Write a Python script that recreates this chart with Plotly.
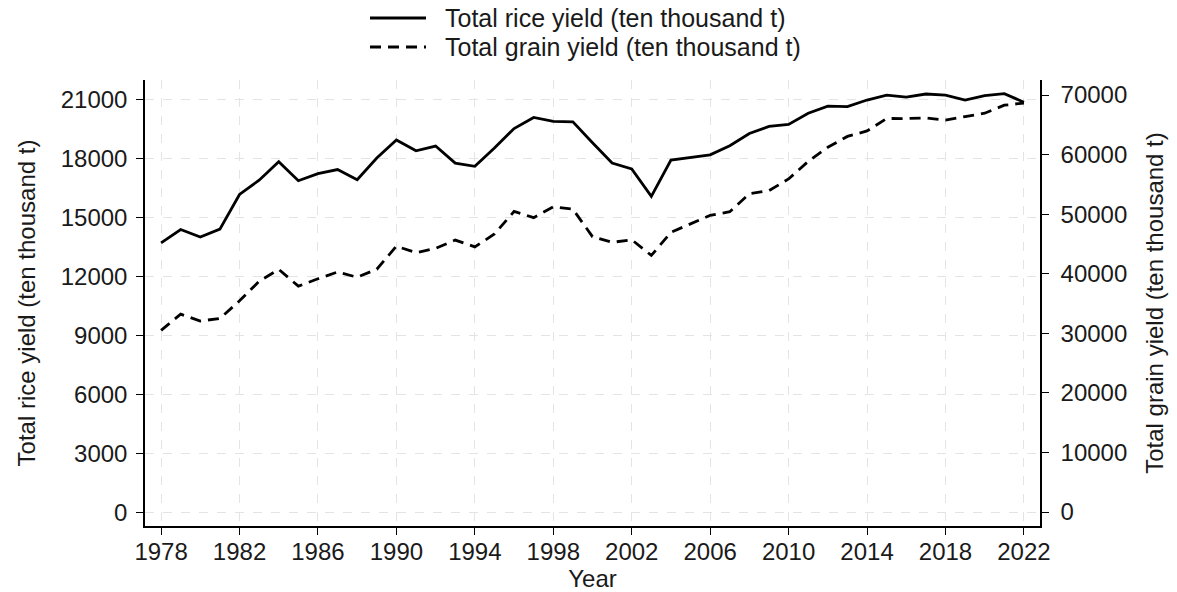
import plotly.graph_objects as go

# Annual output, ten thousand tonnes
years = list(range(1978, 2023))
rice_yield = [
    13693, 14375, 13991, 14396, 16160, 16887, 17826, 16857, 17222, 17426,
    16911, 18013, 18933, 18381, 18622, 17751, 17593, 18523, 19510, 20074,
    19871, 19849, 18791, 17758, 17454, 16066, 17909, 18059, 18172, 18638,
    19261, 19620, 19723, 20288, 20653, 20629, 20961, 21214, 21109, 21268,
    21213, 20961, 21186, 21284, 20850,
]
grain_yield = [
    30477, 33212, 32056, 32502, 35450, 38728, 40731, 37911, 39151, 40298,
    39408, 40755, 44624, 43529, 44266, 45649, 44510, 46662, 50454, 49417,
    51230, 50839, 46218, 45264, 45706, 43070, 46947, 48402, 49804, 50414,
    53434, 53941, 55911, 58849, 61223, 63048, 63965, 66060, 66044, 66161,
    65789, 66384, 66949, 68285, 68653,
]

x_ticks = list(range(1978, 2023, 4))
left_ticks = list(range(0, 21001, 3000))
right_ticks = list(range(0, 70001, 10000))

rice_name = "Total rice yield (ten thousand t)"
grain_name = "Total grain yield (ten thousand t)"

FONT = "Liberation Sans, Arial, sans-serif"
TICK_FS = 24
TITLE_FS = 24
LEGEND_FS = 25
TEXT_COLOR = "#1a1a1a"

W, H = 1177, 592
M_L, M_R, M_T, M_B = 145, 137, 80, 66
PW, PH = W - M_L - M_R, H - M_T - M_B


def px_x(x):
    return (x - M_L) / PW


def px_y(y):
    return (H - M_B - y) / PH


solid = dict(color="black", width=2.8)
dashed = dict(color="black", width=2.8, dash="11px,7px")

fig = go.Figure()
fig.add_trace(go.Scatter(x=years, y=rice_yield, mode="lines", name=rice_name,
                         line=solid, yaxis="y"))
fig.add_trace(go.Scatter(x=years, y=grain_yield, mode="lines", name=grain_name,
                         line=dashed, yaxis="y2"))

# legend keys drawn above the plot area
legend_rows = [(rice_name, solid, 18), (grain_name, dashed, 47)]
for label, style, row_y in legend_rows:
    fig.add_shape(type="line", xref="paper", yref="paper",
                  x0=px_x(370), x1=px_x(426), y0=px_y(row_y), y1=px_y(row_y),
                  line=style)
    fig.add_annotation(xref="paper", yref="paper", x=px_x(443), y=px_y(row_y),
                       xanchor="left", yanchor="middle", showarrow=False,
                       text=label, font=dict(size=LEGEND_FS, color=TEXT_COLOR))

grid_color = "#e4e4e4"
axis_common = dict(
    ticks="outside", ticklen=7, tickwidth=1.3, tickcolor="black",
    showline=True, linecolor="black", linewidth=1.5,
    zeroline=False, automargin=False,
    tickfont=dict(size=TICK_FS, color=TEXT_COLOR),
)

fig.update_layout(
    width=W, height=H,
    margin=dict(l=M_L, r=M_R, t=M_T, b=M_B, autoexpand=False),
    paper_bgcolor="white", plot_bgcolor="white",
    font=dict(family=FONT, size=TICK_FS, color=TEXT_COLOR),
    showlegend=False,
    xaxis=dict(
        range=[1977.18, 2022.82],
        tickvals=x_ticks, ticktext=[str(v) for v in x_ticks],
        showgrid=True, gridcolor=grid_color, griddash="dash", gridwidth=1.3,
        ticklabelstandoff=-4,
        title=dict(text="Year", standoff=12, font=dict(size=TITLE_FS)),
        **axis_common,
    ),
    yaxis=dict(
        range=[-700, 21980],
        tickvals=left_ticks, ticktext=[str(v) for v in left_ticks],
        showgrid=True, gridcolor=grid_color, griddash="dash", gridwidth=1.3,
        ticklabelstandoff=4,
        title=dict(text=rice_name, standoff=18, font=dict(size=TITLE_FS)),
        **axis_common,
    ),
    yaxis2=dict(
        range=[-2350, 72520],
        tickvals=right_ticks, ticktext=[str(v) for v in right_ticks],
        overlaying="y", side="right",
        showgrid=False,
        ticklabelstandoff=7,
        title=dict(text=grain_name, standoff=20, font=dict(size=TITLE_FS)),
        **axis_common,
    ),
)

fig.write_html("out.html")
